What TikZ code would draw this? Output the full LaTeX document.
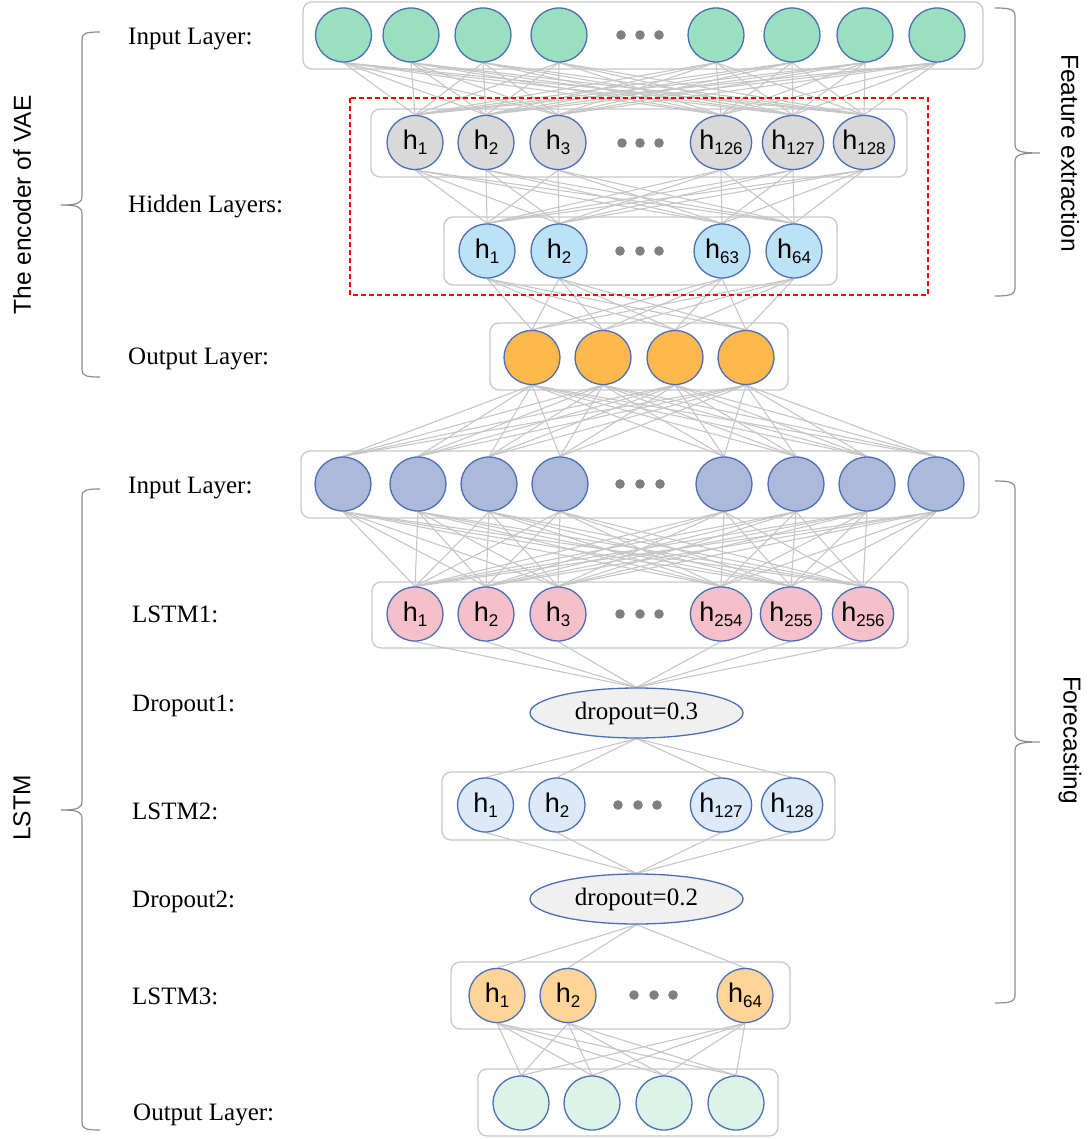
\documentclass[tikz,border=0pt]{standalone}
\usepackage{fontspec}
\setmainfont{Liberation Serif}
\newfontfamily\arialf{Liberation Sans}
\usetikzlibrary{shapes.geometric,backgrounds}
\definecolor{cA}{HTML}{9ADFC0}
\definecolor{cB}{HTML}{D9D9D9}
\definecolor{cC}{HTML}{BDE2F5}
\definecolor{cD}{HTML}{FFB84D}
\definecolor{cE}{HTML}{ADB9DB}
\definecolor{cF}{HTML}{F5C0C9}
\definecolor{cH}{HTML}{DCE9F8}
\definecolor{cJ}{HTML}{FFD597}
\definecolor{cK}{HTML}{DCF3E9}
\definecolor{dropfill}{HTML}{F0F0F0}
\definecolor{nborder}{HTML}{4A6FB5}
\definecolor{boxgray}{HTML}{C8C8C8}
\definecolor{linegray}{HTML}{C6C6C6}
\definecolor{bracegray}{HTML}{8C8C8C}
\definecolor{dotgray}{HTML}{7F7F7F}
\newcommand{\hlab}[1]{{\arialf\fontsize{27}{27}\selectfont h\raisebox{-5pt}{\fontsize{17}{17}\selectfont #1}}}
\begin{document}
\begin{tikzpicture}[x=1pt,y=-1pt,
  neuron/.style={ellipse, draw=nborder, line width=1.3pt, minimum width=56pt, minimum height=54pt, inner sep=0pt},
  dropnode/.style={ellipse, draw=nborder, fill=dropfill, line width=1.3pt, minimum width=213pt, minimum height=50pt, inner sep=0pt, font=\fontsize{25}{25}\selectfont},
  lbox/.style={draw=boxgray, fill=white, line width=1.3pt, rounded corners=9pt},
  conn/.style={draw=linegray, line width=1.1pt},
  lbl/.style={anchor=base west, font=\fontsize{25}{25}\selectfont, inner sep=0pt},
  side/.style={font=\arialf\fontsize{24.5}{24.5}\selectfont, inner sep=0pt},
  brace/.style={draw=bracegray, line width=1.2pt},
  ndot/.style={fill=dotgray}]
\useasboundingbox (0,0) rectangle (1087,1139);

% ---------- neurons ----------
\foreach \x [count=\i] in {343.5,411,483,559,716,792,865,937}
  \node[neuron, fill=cA] (A\i) at (\x,35) {};
\foreach \x/\t [count=\i] in {415/1,486/2,558/3,721/126,793/127,864/128}
  \node[neuron, fill=cB] (B\i) at (\x,142.5) {\hlab{\t}};
\foreach \x/\t [count=\i] in {487/1,559/2,722/63,794/64}
  \node[neuron, fill=cC] (C\i) at (\x,251) {\hlab{\t}};
\foreach \x [count=\i] in {532,603,675,746}
  \node[neuron, fill=cD] (D\i) at (\x,357.5) {};
\foreach \x [count=\i] in {343,418,489,560,724,796,867,936}
  \node[neuron, fill=cE] (E\i) at (\x,484) {};
\foreach \x/\t [count=\i] in {415/1,486/2,558/3,721/254,791/255,863/256}
  \node[neuron, fill=cF] (F\i) at (\x,614) {\hlab{\t}};
\node[dropnode] (G) at (636.5,713) {dropout=0.3};
\foreach \x/\t [count=\i] in {485.5/1,557/2,721/127,792/128}
  \node[neuron, fill=cH] (H\i) at (\x,805) {\hlab{\t}};
\node[dropnode] (I) at (636.5,899) {dropout=0.2};
\foreach \x/\t [count=\i] in {497/1,568/2,745/64}
  \node[neuron, fill=cJ] (J\i) at (\x,995.5) {\hlab{\t}};
\foreach \x [count=\i] in {521,592,664,736}
  \node[neuron, fill=cK] (K\i) at (\x,1103) {};

% ---------- ellipsis dots ----------
\foreach \y/\a/\b/\c in {35/621/640/659, 143/622/640/659, 251/620/640/659, 484/620/640/660, 614/620/640/659, 805/618/638/657, 995/634/654/673}
  \fill[ndot] (\a,\y) circle (4.8pt) (\b,\y) circle (4.8pt) (\c,\y) circle (4.8pt);

% ---------- boxes and connectors (behind) ----------
\begin{pgfonlayer}{background}
  \draw[lbox] (303,2) rectangle (983,69);
  \draw[lbox] (371,109) rectangle (907,177);
  \draw[lbox] (444,217) rectangle (837,285);
  \draw[lbox] (490,323) rectangle (788,390);
  \draw[lbox] (301,451) rectangle (979,518);
  \draw[lbox] (372,582) rectangle (908,648);
  \draw[lbox] (442,772) rectangle (835,840);
  \draw[lbox] (451,962) rectangle (790,1029);
  \draw[lbox] (478,1069) rectangle (778,1136);
  \foreach \i in {1,...,8} \foreach \j in {1,...,6} \draw[conn] (A\i.south) -- (B\j.north);
  \foreach \i in {1,...,6} \foreach \j in {1,...,4} \draw[conn] (B\i.south) -- (C\j.north);
  \foreach \i in {1,...,4} \foreach \j in {1,...,4} \draw[conn] (C\i.south) -- (D\j.north);
  \foreach \i in {1,...,4} \foreach \j in {1,...,8} \draw[conn] (D\i.south) -- (E\j.north);
  \foreach \i in {1,...,8} \foreach \j in {1,...,6} \draw[conn] (E\i.south) -- (F\j.north);
  \foreach \i in {1,...,6} \draw[conn] (F\i.south) -- (G.north);
  \foreach \j in {1,...,4} \draw[conn] (G.south) -- (H\j.north);
  \foreach \i in {1,...,4} \draw[conn] (H\i.south) -- (I.north);
  \foreach \j in {1,...,3} \draw[conn] (I.south) -- (J\j.north);
  \foreach \i in {1,...,3} \foreach \j in {1,...,4} \draw[conn] (J\i.south) -- (K\j.north);
\end{pgfonlayer}

% ---------- red dashed frame ----------
\draw[red, line width=1.1pt, dash pattern=on 5pt off 3pt] (350,98) rectangle (928,295);

% ---------- left labels ----------
\node[lbl] (l1) at (128,45) {Input Layer:};
\node[lbl] (l2) at (128,213) {Hidden Layers:};
\node[lbl] (l3) at (128,364) {Output Layer:};
\node[lbl] (l4) at (128,493) {Input Layer:};
\node[lbl] (l5) at (132,622) {LSTM1:};
\node[lbl] (l6) at (132,711) {Dropout1:};
\node[lbl] (l7) at (132,819) {LSTM2:};
\node[lbl] (l8) at (132,907) {Dropout2:};
\node[lbl] (l9) at (132,1004) {LSTM3:};
\node[lbl] (l10) at (133,1120) {Output Layer:};

% ---------- braces ----------
\draw[brace] (100,32) .. controls (86,32) and (82,33) .. (82,40) -- (82,196)
  .. controls (82,203) and (78,205) .. (61,205)
  .. controls (78,205) and (82,207) .. (82,214) -- (82,369)
  .. controls (82,376) and (86,377) .. (100,377);
\draw[brace] (100,489) .. controls (86,489) and (82,490) .. (82,497) -- (82,801)
  .. controls (82,808) and (78,810) .. (61,810)
  .. controls (78,810) and (82,812) .. (82,819) -- (82,1122)
  .. controls (82,1129) and (86,1130) .. (100,1130);
\draw[brace] (995,8) .. controls (1009,8) and (1015,9) .. (1015,16) -- (1015,144)
  .. controls (1015,151) and (1019,153) .. (1040,153)
  .. controls (1019,153) and (1015,155) .. (1015,162) -- (1015,288)
  .. controls (1015,295) and (1009,296) .. (995,296);
\draw[brace] (995,481) .. controls (1009,481) and (1015,482) .. (1015,489) -- (1015,733)
  .. controls (1015,740) and (1019,742) .. (1040,742)
  .. controls (1019,742) and (1015,744) .. (1015,751) -- (1015,995)
  .. controls (1015,1002) and (1009,1003) .. (995,1003);

% ---------- side titles ----------
\node[side, rotate=90] (t1) at (22,205) {The encoder of VAE};
\node[side, rotate=90] (t2) at (22,808) {LSTM};
\node[side, rotate=-90] (t3) at (1070,153) {Feature extraction};
\node[side, rotate=-90] (t4) at (1070,740) {Forecasting};
\end{tikzpicture}
\end{document}
